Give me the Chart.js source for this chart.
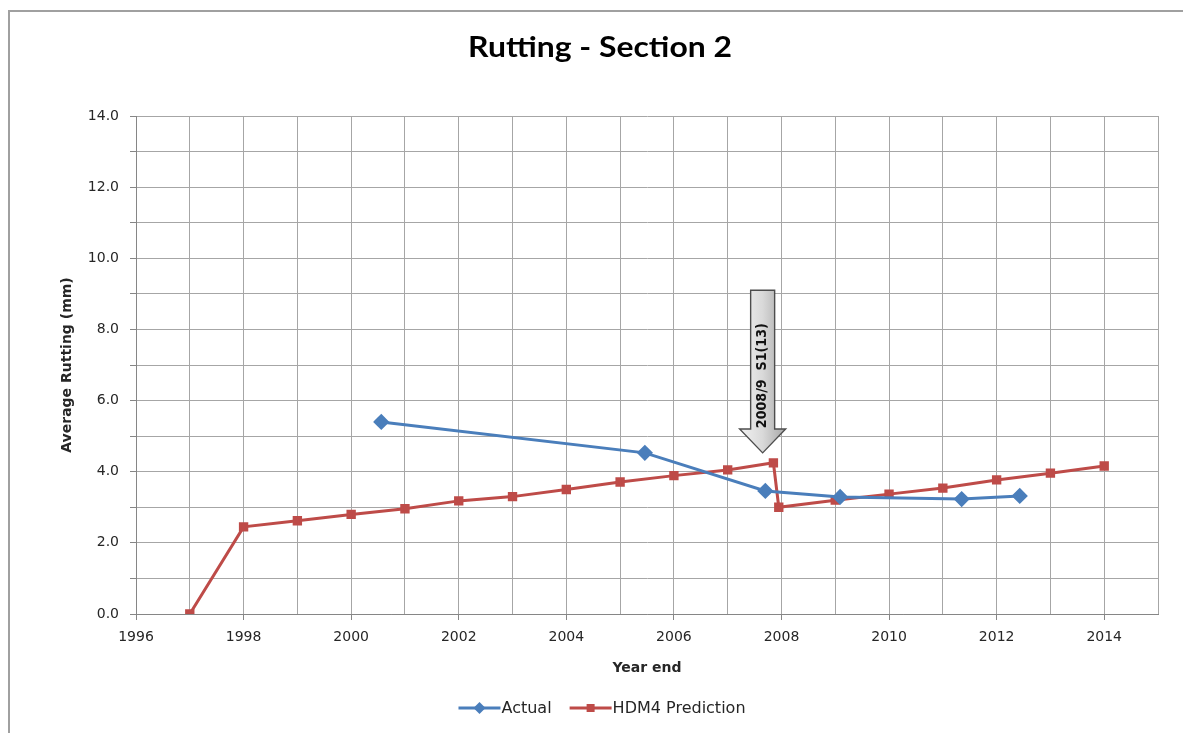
<!DOCTYPE html>
<html>
<head>
<meta charset="utf-8">
<title>Rutting - Section 2</title>
<script src="https://cdn.jsdelivr.net/npm/chart.js@4/dist/chart.umd.min.js"></script>
<style>
  html, body { margin: 0; padding: 0; background: #ffffff; }
  #wrap { width: 1183px; height: 733px; position: relative; overflow: hidden; }
</style>
</head>
<body>
<div id="wrap"><canvas id="c" width="1183" height="733"></canvas></div>
<script>
// Measured rutting (year end, mm)
const actualYears = [2000.56, 2005.46, 2007.7, 2009.09, 2011.35, 2012.43];
const actualRut   = [5.4, 4.53, 3.46, 3.29, 3.23, 3.32];

// HDM-4 predicted rutting; the drop after 2007 is the 2008/9 treatment
const hdmYears = [1997, 1998, 1999, 2000, 2001, 2002, 2003, 2004, 2005, 2006, 2007,
                  2007.85, 2007.95, 2009, 2010, 2011, 2012, 2013, 2014];
const hdmRut   = [0.0, 2.45, 2.62, 2.8, 2.96, 3.18, 3.3, 3.5, 3.71, 3.89, 4.05,
                  4.25, 3.0, 3.2, 3.37, 3.54, 3.77, 3.96, 4.16];

const seriesNames = ['Actual', 'HDM4 Prediction'];
const chartTitle = 'Rutting - Section 2';
const xTitle = 'Year end';
const yTitle = 'Average Rutting (mm)';

// Treatment marker: arrow pointing down at the 2008/9 works
const treatLabel = '2008/9  S1(13)';
const treatX = 2007.65;
const treatTop = 9.1;
const treatHead = 5.2;
const treatTip = 4.53;

const BLUE = '#4a7ebb';
const RED = '#be4b48';
const GRID = '#a6a6a6';
const AXIS = '#868686';
const TEXT = '#262626';

function toPoints(xs, ys) { return xs.map((x, i) => ({ x: x, y: ys[i] })); }

// Outer chart-area frame (top and left edges visible)
const framePlugin = {
  id: 'frame',
  beforeDraw(chart) {
    const ctx = chart.ctx;
    ctx.save();
    ctx.strokeStyle = '#a0a0a0';
    ctx.lineWidth = 2;
    ctx.beginPath();
    ctx.moveTo(9, 733);
    ctx.lineTo(9, 11);
    ctx.lineTo(1183, 11);
    ctx.stroke();
    ctx.restore();
  }
};

// Chart heading (slightly widened face)
const headingPlugin = {
  id: 'heading',
  afterDraw(chart) {
    const ctx = chart.ctx;
    ctx.save();
    ctx.fillStyle = '#000000';
    ctx.font = 'bold 28px Lato';
    ctx.textAlign = 'center';
    ctx.textBaseline = 'middle';
    ctx.translate(600, 48);
    ctx.scale(1.14, 1);
    ctx.fillText(chartTitle, 0, 0);
    ctx.restore();
  }
};

// Down arrow with rotated label, positioned in data units
const arrowPlugin = {
  id: 'treatArrow',
  afterDatasetsDraw(chart) {
    const xs = chart.scales.x, ys = chart.scales.y;
    const cx = xs.getPixelForValue(treatX);
    const top = ys.getPixelForValue(treatTop);
    const head = ys.getPixelForValue(treatHead);
    const tip = ys.getPixelForValue(treatTip);
    const sw = 12, hw = 23;
    const ctx = chart.ctx;
    ctx.save();
    const g = ctx.createLinearGradient(cx - hw, 0, cx + hw, 0);
    g.addColorStop(0, '#f2f2f2');
    g.addColorStop(0.5, '#d9d9d9');
    g.addColorStop(1, '#a6a6a6');
    ctx.beginPath();
    ctx.moveTo(cx - sw, top);
    ctx.lineTo(cx + sw, top);
    ctx.lineTo(cx + sw, head);
    ctx.lineTo(cx + hw, head);
    ctx.lineTo(cx, tip);
    ctx.lineTo(cx - hw, head);
    ctx.lineTo(cx - sw, head);
    ctx.closePath();
    ctx.fillStyle = g;
    ctx.fill();
    ctx.strokeStyle = '#4d4d4d';
    ctx.lineWidth = 1.4;
    ctx.stroke();
    ctx.translate(cx, (top + head) / 2 + 16);
    ctx.rotate(-Math.PI / 2);
    ctx.fillStyle = '#111111';
    ctx.font = 'bold 12px "DejaVu Sans"';
    ctx.textAlign = 'center';
    ctx.textBaseline = 'middle';
    ctx.scale(1.06, 1.1);
    ctx.fillText(treatLabel, 0, 0);
    ctx.restore();
  }
};

// Legend with line-and-marker samples
const legendPlugin = {
  id: 'lineLegend',
  afterDraw(chart) {
    const ctx = chart.ctx;
    ctx.save();
    ctx.font = '16px "DejaVu Sans"';
    ctx.textBaseline = 'middle';
    const sample = 42, gapText = 1, gapItem = 18;
    const items = chart.data.datasets.map((ds, i) => ({
      ds: ds, label: seriesNames[i], w: ctx.measureText(seriesNames[i]).width
    }));
    const total = items.reduce((s, it) => s + sample + gapText + it.w, 0) + gapItem * (items.length - 1);
    let x = 602 - total / 2;
    const y = 708;
    items.forEach(it => {
      ctx.strokeStyle = it.ds.borderColor;
      ctx.lineWidth = 3;
      ctx.beginPath();
      ctx.moveTo(x, y);
      ctx.lineTo(x + sample, y);
      ctx.stroke();
      ctx.fillStyle = it.ds.borderColor;
      const mx = x + sample / 2;
      ctx.beginPath();
      if (it.ds.pointStyle === 'rectRot') {
        ctx.moveTo(mx, y - 6); ctx.lineTo(mx + 6, y); ctx.lineTo(mx, y + 6); ctx.lineTo(mx - 6, y);
      } else {
        ctx.rect(mx - 4, y - 4, 8, 8);
      }
      ctx.closePath();
      ctx.fill();
      ctx.fillStyle = TEXT;
      ctx.textAlign = 'left';
      ctx.fillText(it.label, x + sample + gapText, y + 1);
      x += sample + gapText + it.w + gapItem;
    });
    ctx.restore();
  }
};

new Chart(document.getElementById('c'), {
  type: 'line',
  data: {
    datasets: [
      {
        label: seriesNames[0],
        data: toPoints(actualYears, actualRut),
        borderColor: BLUE,
        backgroundColor: BLUE,
        borderWidth: 3,
        pointStyle: 'rectRot',
        pointRadius: 6,
        pointHoverRadius: 6,
        tension: 0
      },
      {
        label: seriesNames[1],
        data: toPoints(hdmYears, hdmRut),
        borderColor: RED,
        backgroundColor: RED,
        borderWidth: 3,
        pointStyle: 'rect',
        pointRadius: 4.5,
        pointHoverRadius: 4.5,
        tension: 0
      }
    ]
  },
  options: {
    responsive: false,
    animation: false,
    events: [],
    layout: { padding: { left: 0, right: 25, top: 116, bottom: 49 } },
    plugins: {
      legend: { display: false },
      title: { display: false },
      tooltip: { enabled: false }
    },
    scales: {
      x: {
        type: 'linear',
        min: 1996,
        max: 2015,
        afterFit(scale) { scale.height = 70; },
        grid: {
          color: GRID,
          lineWidth: 1,
          tickLength: 6,
          tickColor: ctx => (ctx.tick && ctx.tick.value % 2 === 0 && ctx.tick.value < 2015) ? AXIS : 'rgba(0,0,0,0)'
        },
        border: { color: AXIS, width: 1 },
        ticks: {
          stepSize: 1,
          autoSkip: false,
          maxRotation: 0,
          padding: 9,
          color: TEXT,
          font: { family: 'DejaVu Sans', size: 14 },
          callback: v => (v % 2 === 0 && v < 2015) ? String(v) : ''
        },
        title: {
          display: true,
          text: xTitle,
          color: TEXT,
          font: { family: 'DejaVu Sans', size: 14, weight: 'bold' },
          padding: { top: 7, bottom: 7 }
        }
      },
      y: {
        min: 0,
        max: 14,
        afterFit(scale) { scale.width = 136; },
        grid: { color: GRID, lineWidth: 1, tickLength: 6, tickColor: AXIS },
        border: { color: AXIS, width: 1 },
        ticks: {
          stepSize: 1,
          autoSkip: false,
          padding: 11,
          color: TEXT,
          font: { family: 'DejaVu Sans', size: 14 },
          callback: v => (v % 2 === 0) ? v.toFixed(1) : ''
        },
        title: {
          display: true,
          text: yTitle,
          color: TEXT,
          font: { family: 'DejaVu Sans', size: 14, weight: 'bold' },
          padding: { top: 59, bottom: 59 }
        }
      }
    }
  },
  plugins: [framePlugin, headingPlugin, arrowPlugin, legendPlugin]
});
</script>
</body>
</html>
